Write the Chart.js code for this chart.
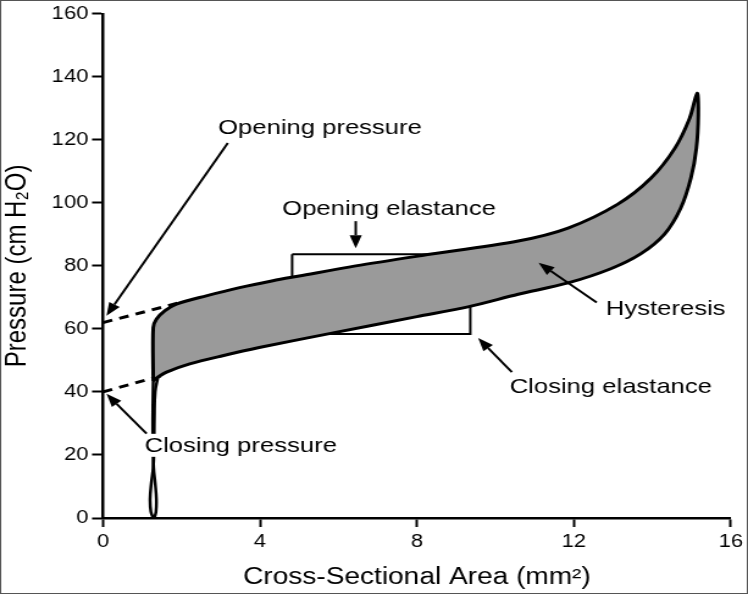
<!DOCTYPE html>
<html>
<head>
<meta charset="utf-8">
<script src="https://cdn.jsdelivr.net/npm/chart.js@4/dist/chart.umd.min.js"></script>
<style>
  body { margin: 0; background: #fff; }
  /* the source figure is stretched sideways, so is this one */
  #wrap { width: 613px; height: 594px; transform: scaleX(1.2202); transform-origin: 0 0; }
</style>
</head>
<body>
<div id="wrap"><canvas id="loopChart"></canvas></div>
<script>
// axis ticks
const areaTicks = [0, 4, 8, 12, 16]
const pressureTicks = [0, 20, 40, 60, 80, 100, 120, 140, 160]

// hysteresis loop: up the opening curve, back down the closing curve
const loopArea = [1.28, 1.28, 1.36, 1.58, 1.87, 2.63, 3.48, 4.33, 5.0, 6.44, 8.13, 10.58, 11.85, 13.12, 13.96, 14.57, 14.95, 15.14,
                  15.17, 15.12, 14.98, 14.72, 14.31, 13.70, 12.94, 11.85, 10.58, 9.30, 8.0, 5.8, 3.98, 3.05, 2.21, 1.62, 1.40, 1.28]
const loopPressure = [43.5, 60.4, 63.1, 65.8, 67.9, 70.5, 73.1, 75.3, 76.8, 80.0, 83.3, 87.9, 92.0, 99.6, 107.8, 117.3, 126.9, 134.8,
                      128.0, 117.3, 107.8, 98.3, 90.1, 83.8, 79.1, 74.6, 71.0, 67.0, 63.9, 58.6, 54.1, 51.5, 48.9, 46.3, 44.7, 43.5]

// the catheter stem below the loop (two traces twisting)
const stemAArea = [1.28, 1.27, 1.27, 1.29, 1.33, 1.36, 1.35, 1.31]
const stemAPressure = [43.5, 35, 25, 16, 11, 6, 2, 0]
const stemBArea = [1.40, 1.33, 1.31, 1.30, 1.28, 1.23, 1.20, 1.22, 1.28]
const stemBPressure = [44.7, 40, 32, 22, 16, 11, 6, 2, 0]

// extrapolations to the pressure axis
const openDashArea = [0, 2.0]
const openDashPressure = [62.0, 68.5]
const closeDashArea = [0, 1.5]
const closeDashPressure = [40.0, 45.2]

// elastance box
const boxArea = [4.82, 9.36, 9.36, 4.82, 4.82]
const boxPressure = [83.7, 83.7, 58.4, 58.4, 83.7]

// annotations (baseline of text, arrow tail -> head)
const noteText = ['Opening pressure', 'Opening elastance', 'Hysteresis', 'Closing elastance', 'Closing pressure']
const noteArea = [5.53, 7.29, 14.34, 12.94, 3.51]
const notePressure = [121.9, 96.3, 64.5, 39.6, 21.0]
const noteWhiteBack = [false, false, false, false, true]
const arrowFrom = [[3.18, 119.0], [6.44, 94.2], [12.58, 68.4], [10.42, 46.3], [1.11, 26.8]]
const arrowTo = [[0.09, 64.2], [6.44, 85.6], [11.10, 81.0], [9.56, 57.1], [0.09, 39.4]]

function pts(xs, ys) {
  return xs.map((x, i) => ({x: x, y: ys[i]}))
}

function drawArrow(ctx, x1, y1, x2, y2) {
  var ang = Math.atan2(y2 - y1, x2 - x1)
  var len = 13, half = 5
  var bx = x2 - Math.cos(ang) * len, by = y2 - Math.sin(ang) * len
  ctx.beginPath()
  ctx.moveTo(x1, y1)
  ctx.lineTo(bx, by)
  ctx.stroke()
  ctx.beginPath()
  ctx.moveTo(x2, y2)
  ctx.lineTo(bx - Math.sin(ang) * half, by + Math.cos(ang) * half)
  ctx.lineTo(bx + Math.sin(ang) * half, by - Math.cos(ang) * half)
  ctx.closePath()
  ctx.fill()
}

const notes = {
  id: 'notes',
  afterDatasetsDraw(chart) {
    const {ctx, scales: {x, y}} = chart
    ctx.save()
    ctx.font = '21px "Liberation Sans", Arial, sans-serif'
    ctx.textAlign = 'center'
    ctx.textBaseline = 'alphabetic'
    noteText.forEach((t, i) => {
      if (!noteWhiteBack[i]) return
      var px = x.getPixelForValue(noteArea[i]), py = y.getPixelForValue(notePressure[i])
      var w = ctx.measureText(t).width
      ctx.fillStyle = '#fff'
      ctx.fillRect(px - w / 2 - 1, py - 18, w + 2, 23)
    })
    ctx.strokeStyle = '#000'
    ctx.fillStyle = '#000'
    ctx.lineWidth = 2
    arrowFrom.forEach((f, i) => {
      var t = arrowTo[i]
      drawArrow(ctx, x.getPixelForValue(f[0]), y.getPixelForValue(f[1]),
                x.getPixelForValue(t[0]), y.getPixelForValue(t[1]))
    })
    noteText.forEach((t, i) => {
      ctx.fillText(t, x.getPixelForValue(noteArea[i]), y.getPixelForValue(notePressure[i]))
    })
    ctx.restore()
  },
  afterDraw(chart) {
    const ctx = chart.ctx
    ctx.save()
    ctx.strokeStyle = '#555'
    ctx.lineWidth = 1
    ctx.strokeRect(0.5, 0.5, chart.width - 1, chart.height - 1)
    ctx.restore()
  }
}

Chart.defaults.font.family = '"Liberation Sans", Arial, sans-serif'
Chart.defaults.color = '#000'

const ctx = document.getElementById('loopChart')

new Chart(ctx, {
  type: 'line',
  data: {
    datasets: [
      {
        label: 'Hysteresis',
        data: pts(loopArea, loopPressure),
        borderColor: '#000',
        borderWidth: 3,
        backgroundColor: '#9a9a9a',
        fill: 'shape',
        tension: 0.3,
        borderJoinStyle: 'round',
        order: 2
      },
      {
        label: 'stem a',
        data: pts(stemAArea, stemAPressure),
        borderColor: '#000',
        borderWidth: 2.5,
        fill: false,
        tension: 0.4,
        order: 1
      },
      {
        label: 'stem b',
        data: pts(stemBArea, stemBPressure),
        borderColor: '#000',
        borderWidth: 2.5,
        fill: false,
        tension: 0.4,
        order: 1
      },
      {
        label: 'opening pressure',
        data: pts(openDashArea, openDashPressure),
        borderColor: '#000',
        borderWidth: 3,
        borderDash: [8, 6],
        fill: false,
        order: 3
      },
      {
        label: 'closing pressure',
        data: pts(closeDashArea, closeDashPressure),
        borderColor: '#000',
        borderWidth: 3,
        borderDash: [8, 6],
        fill: false,
        order: 3
      },
      {
        label: 'elastance',
        data: pts(boxArea, boxPressure),
        borderColor: '#000',
        borderWidth: 2,
        fill: false,
        order: 4
      }
    ]
  },
  options: {
    responsive: true,
    maintainAspectRatio: false,
    animation: false,
    devicePixelRatio: 1,
    events: [],
    elements: { point: { radius: 0 } },
    layout: { padding: { left: 0, right: 12.3, top: 12, bottom: 0 } },
    plugins: {
      legend: { display: false },
      tooltip: { enabled: false }
    },
    scales: {
      x: {
        type: 'linear',
        min: 0,
        max: 16,
        afterBuildTicks: s => { s.ticks = areaTicks.map(v => ({value: v})) },
        afterFit: s => { s.height = 76 },
        grid: { drawOnChartArea: false, tickLength: 9, tickWidth: 2, tickColor: '#000' },
        border: { color: '#000', width: 2.5 },
        ticks: { font: { size: 18 }, padding: 4, maxRotation: 0 },
        title: { display: true, text: 'Cross-Sectional Area (mm²)', font: { size: 23 }, padding: { top: 0, bottom: 3 } }
      },
      y: {
        type: 'linear',
        min: 0,
        max: 160,
        afterBuildTicks: s => { s.ticks = pressureTicks.map(v => ({value: v})) },
        afterFit: s => { s.width = 84.4 },
        grid: { drawOnChartArea: false, tickLength: 9, tickWidth: 2, tickColor: '#000' },
        border: { color: '#000', width: 2.5 },
        ticks: { font: { size: 18 }, padding: 3 },
        title: { display: true, text: 'Pressure (cm H₂O)', font: { size: 24 }, padding: { top: 0, bottom: 0 } }
      }
    }
  },
  plugins: [notes]
})
</script>
</body>
</html>
